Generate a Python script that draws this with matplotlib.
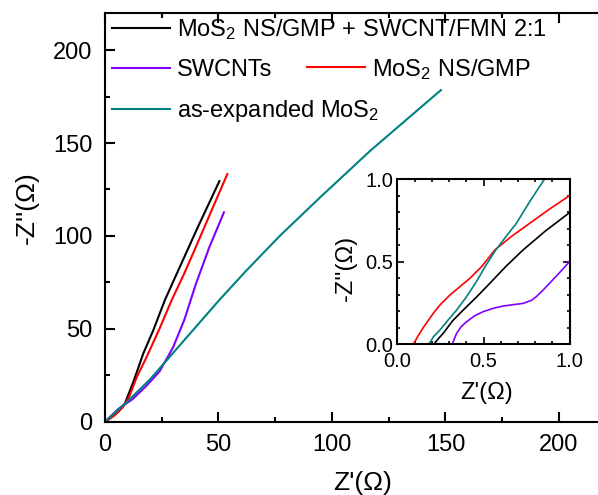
import numpy as np
import matplotlib
matplotlib.use('Agg')
import matplotlib.pyplot as plt
from matplotlib.ticker import MultipleLocator

plt.rcParams['font.family'] = ['Liberation Sans', 'DejaVu Sans']
plt.rcParams['mathtext.fontset'] = 'custom'
plt.rcParams['mathtext.rm'] = 'Liberation Sans'
plt.rcParams['mathtext.default'] = 'regular'

# ---- data (Z' , -Z'') ----
blk_x = [0, 3, 6, 8.8, 12.5, 16.9, 21.3, 26.4, 33, 41, 50.4]
blk_y = [0, 2.5, 5.5, 9.9, 21.5, 36.8, 49.3, 65.5, 83.4, 105, 129.5]

red_x = [0, 4, 8, 10.5, 14, 18.4, 24, 29.4, 35, 40, 46, 53.9]
red_y = [0, 3.2, 8, 13, 24, 35, 50, 65.5, 80, 94, 111, 133.3]

pur_x = [0, 6, 12, 18, 24, 30, 35, 40, 46, 52.4]
pur_y = [0, 7, 12, 19, 27, 40, 55, 74, 94, 112.7]

tea_x = [0, 10, 20, 35, 50, 62, 77, 95, 117, 148]
tea_y = [0, 11, 23, 44, 65, 81, 100, 121, 146, 178.5]

# inset (zoom of the high-frequency region)
in_blk_x = [0.212, 0.24, 0.266, 0.32, 0.382, 0.46, 0.537, 0.63, 0.73, 0.86, 1.0]
in_blk_y = [0, 0.035, 0.065, 0.14, 0.206, 0.285, 0.368, 0.47, 0.570, 0.685, 0.796]
in_red_x = [0.093, 0.12, 0.15, 0.208, 0.25, 0.305, 0.36, 0.421, 0.49, 0.566, 0.66, 0.768, 0.88, 1.0]
in_red_y = [0, 0.05, 0.10, 0.186, 0.24, 0.297, 0.345, 0.398, 0.47, 0.570, 0.65, 0.731, 0.815, 0.899]
in_pur_x = [0.319, 0.33, 0.344, 0.37, 0.402, 0.45, 0.498, 0.556, 0.614, 0.67, 0.73, 0.78, 0.807, 0.84, 0.884, 0.94, 1.0]
in_pur_y = [0, 0.03, 0.065, 0.105, 0.135, 0.172, 0.196, 0.216, 0.230, 0.238, 0.246, 0.265, 0.287, 0.32, 0.368, 0.43, 0.499]
in_tea_x = [0.183, 0.21, 0.247, 0.29, 0.344, 0.40, 0.459, 0.51, 0.566, 0.63, 0.691, 0.77, 0.855]
in_tea_y = [0, 0.045, 0.085, 0.14, 0.206, 0.285, 0.378, 0.47, 0.562, 0.65, 0.731, 0.865, 1.0]

labels = ['MoS$_2$ NS/GMP + SWCNT/FMN 2:1', 'SWCNTs', 'MoS$_2$ NS/GMP',
          'as-expanded MoS$_2$']
c_blk, c_pur, c_red, c_tea = 'black', '#7f00ff', '#ff0000', '#008080'

W, H = 598, 495
fig = plt.figure(figsize=(W / 100, H / 100), dpi=100)

# main axes (right edge runs off the picture)
ax = fig.add_axes([105 / W, 1 - 421.7 / H, 505 / W, 408.7 / H])
lw = 1.5
l_blk, = ax.plot(blk_x, blk_y, color=c_blk, lw=lw)
l_pur, = ax.plot(pur_x, pur_y, color=c_pur, lw=lw)
l_red, = ax.plot(red_x, red_y, color=c_red, lw=lw)
l_tea, = ax.plot(tea_x, tea_y, color=c_tea, lw=lw)

ax.set_xlim(0, 222.5)
ax.set_ylim(0, 220)
ax.xaxis.set_major_locator(MultipleLocator(50))
ax.xaxis.set_minor_locator(MultipleLocator(25))
ax.yaxis.set_major_locator(MultipleLocator(50))
ax.yaxis.set_minor_locator(MultipleLocator(25))
ax.tick_params(which='both', direction='in', top=True, right=False,
               width=1.5, labelsize=17)
ax.tick_params(which='major', length=7, pad=9)
ax.tick_params(which='minor', length=3.5)
for s in ax.spines.values():
    s.set_linewidth(1.5)
ax.spines['right'].set_visible(False)

ax.set_xlabel("Z'(\u03a9)", fontsize=19, va='center')
ax.xaxis.set_label_coords(0.511, -0.149)
ax.set_ylabel("-Z''(\u03a9)", fontsize=19, va='center')
ax.yaxis.set_label_coords(-0.154, 0.524)

# legend laid out like the original (Origin style)
leg1 = ax.legend([l_blk, l_pur, l_tea], [labels[0], labels[1], labels[3]],
                 loc='upper left', bbox_to_anchor=(7 / 505, 0.99),
                 frameon=False, fontsize=17, handlelength=2.45,
                 handletextpad=0.3, labelspacing=0.72, borderpad=0,
                 borderaxespad=0)
ax.add_artist(leg1)
ax.legend([l_red], [labels[2]], loc='upper left',
          bbox_to_anchor=(202 / 505, 0.893), frameon=False, fontsize=17,
          handlelength=2.45, handletextpad=0.3, borderpad=0, borderaxespad=0)

# inset
ins = fig.add_axes([397.5 / W, 1 - 344 / H, 172 / W, 165 / H])
ins.plot(in_blk_x, in_blk_y, color=c_blk, lw=1.2)
ins.plot(in_pur_x, in_pur_y, color=c_pur, lw=1.2)
ins.plot(in_red_x, in_red_y, color=c_red, lw=1.2)
ins.plot(in_tea_x, in_tea_y, color=c_tea, lw=1.2)
ins.set_xlim(0, 1)
ins.set_ylim(0, 1)
ins.xaxis.set_major_locator(MultipleLocator(0.5))
ins.xaxis.set_minor_locator(MultipleLocator(0.1))
ins.yaxis.set_major_locator(MultipleLocator(0.5))
ins.yaxis.set_minor_locator(MultipleLocator(0.1))
ins.tick_params(which='both', direction='in', top=True, right=True,
                width=1.2, labelsize=14.5)
ins.tick_params(axis='y', which='major', length=5, pad=3)
ins.tick_params(axis='x', which='major', length=5, pad=6)
ins.tick_params(which='minor', length=2.5)
for s in ins.spines.values():
    s.set_linewidth(1.5)
ins.set_xlabel("Z'(\u03a9)", fontsize=17, va='center')
ins.xaxis.set_label_coords(0.517, -0.297)
ins.set_ylabel("-Z''(\u03a9)", fontsize=17, va='center')
ins.yaxis.set_label_coords(-0.297, 0.46)

fig.savefig('out.png', dpi=100)
